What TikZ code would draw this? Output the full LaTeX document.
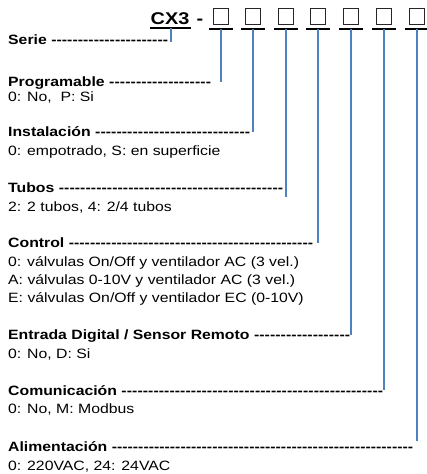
\documentclass[tikz,border=0pt]{standalone}
\usepackage{fontspec}
\setmainfont{Liberation Sans}[FakeStretch=1.17]
\definecolor{linkblue}{RGB}{79,129,189}
\begin{document}
\begin{tikzpicture}[x=1pt,y=-1pt,
  sub/.style={anchor=west, inner sep=0, text height=9.5pt, text depth=2.5pt, font=\fontsize{13.5}{15}\selectfont},
  head/.style={anchor=west, inner sep=0, text height=9.5pt, text depth=2.5pt, font=\fontsize{13.5}{15}\selectfont\bfseries},
  conn/.style={draw=linkblue, line width=2pt},
  cell/.style={draw=black!85, line width=0.8pt, minimum size=15.5pt, inner sep=0},
  bar/.style={draw=black, line width=2.8pt}]
\useasboundingbox (0,0) rectangle (427,474);
% title
\node[inner sep=0, anchor=base, font=\fontsize{17}{20}\selectfont\bfseries] (cx) at (170,24) {CX3};
\coordinate (cxl) at (150,28);
\coordinate (cxr) at (191,28);
\draw[black, line width=2.2pt] (cxl) -- (cxr);
\node[inner sep=0, anchor=base, font=\fontsize{17}{20}\selectfont\bfseries] (dash) at (200,24) {-};
% cells
\foreach \x [count=\i] in {221,253,286,318,351,384,417} {
  \node[cell] (c\i) at (\x,16.5) {};
  \coordinate (u\i) at (\x,29);
  \draw[bar] ([xshift=-12pt]u\i) -- ([xshift=12pt]u\i);
}
% headings
\node[head] (h0) at (8,41) {\hbox to 160pt{Serie \xleaders\hbox{-}\hfill}};
\node[head] (h1) at (8,83) {\hbox to 203pt{Programable \xleaders\hbox{-}\hfill}};
\node[sub] (d1) at (8,98) {0: No,\ \ P: Si};
\node[head] (h2) at (8,133) {\hbox to 242pt{Instalación \xleaders\hbox{-}\hfill}};
\node[sub] (d2) at (8,152) {0: empotrado, S: en superficie};
\node[head] (h3) at (8,189) {\hbox to 275pt{Tubos \xleaders\hbox{-}\hfill}};
\node[sub] (d3) at (8,208) {2: 2 tubos, 4: 2/4 tubos};
\node[head] (h4) at (8,244) {\hbox to 305pt{Control \xleaders\hbox{-}\hfill}};
\node[sub] (d4a) at (8,263) {0: válvulas On/Off y ventilador AC (3 vel.)};
\node[sub] (d4b) at (8,281) {A: válvulas 0-10V y ventilador AC (3 vel.)};
\node[sub] (d4c) at (8,299) {E: válvulas On/Off y ventilador EC (0-10V)};
\node[head] (h5) at (8,336) {\hbox to 342pt{Entrada Digital / Sensor Remoto \xleaders\hbox{-}\hfill}};
\node[sub] (d5) at (8,355) {0: No, D: Si};
\node[head] (h6) at (8,392) {\hbox to 375pt{Comunicación \xleaders\hbox{-}\hfill}};
\node[sub] (d6) at (8,410) {0: No, M: Modbus};
\node[head] (h7) at (8,448) {\hbox to 405pt{Alimentación \xleaders\hbox{-}\hfill}};
\node[sub] (d7) at (8,467) {0: 220VAC, 24: 24VAC};
% connector ends
\coordinate (s0) at (171,28);
\coordinate (e0) at (171,42);
\coordinate (e1) at (221,82);
\coordinate (e2) at (253,132);
\coordinate (e3) at (286,197);
\coordinate (e4) at (318,243);
\coordinate (e5) at (351,335);
\coordinate (e6) at (384,390);
\coordinate (e7) at (417,441);
\draw[conn] (s0) -- (e0);
\foreach \i in {1,...,7} { \draw[conn] (u\i) -- (e\i); }
\end{tikzpicture}
\end{document}
